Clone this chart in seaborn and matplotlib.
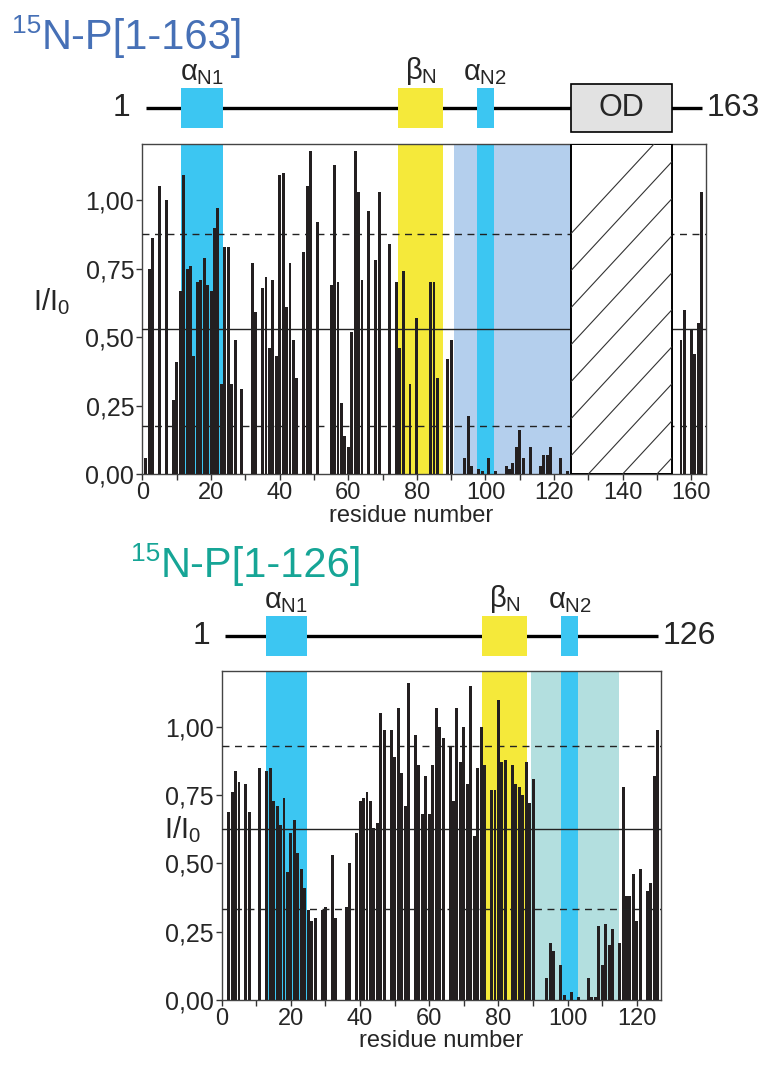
import matplotlib
matplotlib.use("Agg")
import matplotlib.pyplot as plt
import numpy as np
import pandas as pd
import seaborn as sns
from matplotlib.patches import Rectangle

# ---------------- data ----------------
residues_163 = np.arange(1, 164)
intensity_163 = [
    0.06, 0.75, 0.86, 0.00, 1.05, 0.00, 1.00, 0.00, 0.27, 0.41,
    0.67, 1.09, 0.75, 0.76, 0.43, 0.70, 0.71, 0.79, 0.69, 0.67,
    0.90, 0.97, 0.33, 0.83, 0.83, 0.33, 0.49, 0.00, 0.31, 0.00,
    0.00, 0.77, 0.59, 0.00, 0.68, 0.72, 0.46, 0.71, 0.43, 1.09,
    1.10, 0.61, 0.77, 0.49, 0.35, 0.00, 0.81, 1.05, 1.18, 0.00,
    0.92, 0.00, 0.00, 0.00, 0.69, 1.13, 0.70, 0.26, 0.14, 0.10,
    0.52, 1.18, 1.03, 0.71, 0.00, 0.96, 0.00, 0.78, 1.03, 0.00,
    0.00, 0.84, 0.00, 0.70, 0.46, 0.74, 0.00, 0.33, 0.00, 0.57,
    0.00, 0.00, 0.00, 0.70, 0.70, 0.35, 0.00, 0.00, 0.42, 0.49,
    0.00, 0.00, 0.00, 0.06, 0.21, 0.03, 0.00, 0.02, 0.01, 0.00,
    0.06, 0.00, 0.01, 0.00, 0.00, 0.03, 0.02, 0.04, 0.10, 0.16,
    0.06, 0.00, 0.10, 0.00, 0.00, 0.03, 0.07, 0.07, 0.10, 0.00,
    0.00, 0.06, 0.00, 0.01, 0.00, 0.00, 0.00, 0.00, 0.00, 0.00,
    0.00, 0.00, 0.00, 0.00, 0.00, 0.00, 0.00, 0.00, 0.00, 0.00,
    0.00, 0.00, 0.00, 0.00, 0.00, 0.00, 0.00, 0.00, 0.00, 0.00,
    0.00, 0.00, 0.00, 0.00, 0.00, 0.00, 0.49, 0.60, 0.00, 0.53,
    0.44, 0.55, 1.03,
]

residues_126 = np.arange(1, 127)
intensity_126 = [
    0.00, 0.69, 0.76, 0.84, 0.80, 0.00, 0.79, 0.69, 0.00, 0.00,
    0.85, 0.00, 0.84, 0.85, 0.73, 0.71, 0.64, 0.74, 0.47, 0.61,
    0.66, 0.54, 0.48, 0.41, 0.33, 0.29, 0.30, 0.00, 0.33, 0.34,
    0.00, 0.53, 0.30, 0.00, 0.00, 0.34, 0.50, 0.00, 0.61, 0.73,
    0.74, 0.76, 0.73, 0.63, 0.65, 1.05, 0.99, 0.00, 0.99, 0.89,
    1.07, 0.83, 0.71, 1.16, 0.00, 0.97, 0.86, 0.68, 0.82, 0.68,
    0.86, 1.07, 1.00, 0.96, 0.00, 0.93, 0.73, 1.07, 0.87, 1.00,
    0.79, 1.15, 0.60, 0.85, 1.00, 0.86, 0.00, 0.77, 0.77, 1.10,
    0.87, 0.88, 0.00, 0.86, 0.79, 0.78, 0.75, 0.87, 0.72, 0.81,
    0.00, 0.00, 0.00, 0.08, 0.21, 0.18, 0.00, 0.13, 0.02, 0.00,
    0.03, 0.00, 0.01, 0.00, 0.00, 0.08, 0.01, 0.01, 0.27, 0.13,
    0.28, 0.20, 0.26, 0.00, 0.21, 0.78, 0.38, 0.38, 0.46, 0.29,
    0.48, 0.00, 0.40, 0.43, 0.82, 0.99,
]

# mean +/- sd reference lines (upper dashed, solid, lower dashed)
ref_lines_163 = [0.878, 0.530, 0.176]
ref_lines_126 = [0.929, 0.625, 0.333]

# domain boundaries in residue numbers
alpha_n1_163 = (11.3, 23.6)
beta_n_163 = (74.6, 87.5)
alpha_n2_163 = (97.4, 102.5)
disordered_163 = (90.8, 124.8)
od_163 = (124.8, 154.5)

alpha_n1_126 = (12.7, 24.7)
beta_n_126 = (75.3, 88.2)
alpha_n2_126 = (98.0, 103.0)
disordered_126 = (89.5, 114.7)

y_ticks = [0.0, 0.25, 0.5, 0.75, 1.0]
y_tick_labels = ["0,00", "0,25", "0,50", "0,75", "1,00"]
x_ticks_163 = [0, 20, 40, 60, 80, 100, 120, 140, 160]
x_ticks_126 = [0, 20, 40, 60, 80, 100, 120]

# ---------------- style ----------------
sns.set_theme(style="white")
plt.rcParams["font.family"] = ["Liberation Sans", "DejaVu Sans"]
plt.rcParams["mathtext.fontset"] = "custom"
plt.rcParams["mathtext.rm"] = "Liberation Sans"
plt.rcParams["mathtext.it"] = "Liberation Sans"

BAR = "#231f20"
CYAN = "#3cc6f2"
YELLOW = "#f5e93a"
LIGHT_BLUE = "#b4cfed"
LIGHT_TEAL = "#b3dfdf"
OD_GREY = "#e2e2e2"

W, H = 768, 1066
fig = plt.figure(figsize=(W / 100, H / 100), dpi=100)


def px_axes(left, top, right, bottom):
    return fig.add_axes([left / W, 1 - bottom / H, (right - left) / W, (bottom - top) / H])


def intensity_panel(ax, residues, values, xlim, xticks, ref_lines, spans):
    for (lo, hi), col in spans:
        ax.axvspan(lo, hi, color=col, lw=0, zorder=0)
    df = pd.DataFrame({"residue": residues, "intensity": values})
    df = df[df["intensity"] > 0]
    sns.barplot(data=df, x="residue", y="intensity", native_scale=True, width=0.85,
                color=BAR, saturation=1, errorbar=None, ax=ax, zorder=3,
                edgecolor="none", linewidth=0)
    for y, ls in zip(ref_lines, ["--", "-", "--"]):
        if ls == "--":
            ax.axhline(y, color="#222222", lw=1.0, ls=ls, dashes=(5, 4), zorder=4)
        else:
            ax.axhline(y, color="#222222", lw=1.0, ls=ls, zorder=4)
    ax.set_xlim(*xlim)
    ax.set_ylim(0, 1.205)
    ax.set_xticks(xticks)
    minor = [t + 10 for t in xticks if t + 10 < xlim[1]]
    ax.set_xticks(minor, minor=True)
    ax.set_xticklabels([str(t) for t in xticks])
    ax.set_yticks(y_ticks)
    ax.set_yticklabels(y_tick_labels)
    ax.tick_params(axis="both", which="both", direction="out", length=4, width=1,
                   color="#333333", pad=1.5, bottom=True, left=True)
    ax.tick_params(axis="x", labelsize=17)
    ax.tick_params(axis="y", labelsize=18)
    ax.set_xlabel("residue number", fontsize=17, labelpad=0)
    ax.set_ylabel("")
    for s in ax.spines.values():
        s.set_color("#444444")
        s.set_linewidth(1.0)


def domain_map(ax, xlim, n_res, boxes, od=None):
    ax.set_xlim(*xlim)
    ax.set_ylim(-1, 1)
    ax.axis("off")
    ax.plot([1, n_res], [0, 0], color="black", lw=2.4, zorder=1, solid_capstyle="butt")
    for (lo, hi), col, label in boxes:
        ax.add_patch(Rectangle((lo, -0.78), hi - lo, 1.56, facecolor=col, edgecolor="none", zorder=2))
        ax.text((lo + hi) / 2, 0.8, label, ha="center", va="bottom", fontsize=21)
    if od is not None:
        lo, hi = od
        ax.add_patch(Rectangle((lo, -0.92), hi - lo, 1.84, facecolor=OD_GREY,
                               edgecolor="black", lw=1.2, zorder=2))
        ax.text((lo + hi) / 2, 0, "OD", ha="center", va="center", fontsize=22, zorder=3)
    ax.annotate("1", (1, 0), xytext=(-11, 0), textcoords="offset points",
                ha="right", va="center", fontsize=23, annotation_clip=False)
    ax.text(n_res + 1.5, 0, str(n_res), ha="left", va="center", fontsize=23, clip_on=False)


a_n1 = r"$\alpha_{\mathrm{N1}}$"
a_n2 = r"$\alpha_{\mathrm{N2}}$"
b_n = r"$\beta_{\mathrm{N}}$"

# ---------------- top: P[1-163] ----------------
xlim_163 = (-0.2, 164.2)
ax1 = px_axes(141.8, 144, 705.7, 474)
intensity_panel(ax1, residues_163, intensity_163, xlim_163, x_ticks_163, ref_lines_163,
                [(alpha_n1_163, CYAN), (beta_n_163, YELLOW), (disordered_163, LIGHT_BLUE),
                 (alpha_n2_163, CYAN)])
ax1.xaxis.set_label_coords(0.477, -0.093)

# hatched oligomerisation-domain box
od_box = Rectangle((od_163[0], 0), od_163[1] - od_163[0], 1.205, facecolor="white",
                   edgecolor="black", lw=1.4, zorder=5)
ax1.add_patch(od_box)
slope = 1.08 * 3.43 / 274.0
for x0 in np.arange(60, 160, 10):
    ln, = ax1.plot([x0, x0 + 1.3 / slope], [0, 1.3], color="#333333", lw=0.8, zorder=6)
    ln.set_clip_path(od_box)

d1 = px_axes(141.8, 82, 705.7, 134)
domain_map(d1, xlim_163, 163,
           [(alpha_n1_163, CYAN, a_n1), (beta_n_163, YELLOW, b_n), (alpha_n2_163, CYAN, a_n2)],
           od=od_163)

fig.text(12 / W, 1 - 26 / H, "15", fontsize=19, color="#4670b6", va="center")
fig.text(42 / W, 1 - 38 / H, "N-P[1-163]", fontsize=30, color="#4670b6", va="center")
fig.text(52 / W, 1 - 302 / H, r"I/I$_0$", fontsize=21, ha="center", va="center")

# ---------------- bottom: P[1-126] ----------------
xlim_126 = (0.0, 127.0)
ax2 = px_axes(221.7, 671, 661.1, 1000)
intensity_panel(ax2, residues_126, intensity_126, xlim_126, x_ticks_126, ref_lines_126,
                [(alpha_n1_126, CYAN), (beta_n_126, YELLOW), (disordered_126, LIGHT_TEAL),
                 (alpha_n2_126, CYAN)])
ax2.xaxis.set_label_coords(0.5, -0.092)

d2 = px_axes(221.7, 610, 661.1, 662)
domain_map(d2, xlim_126, 126,
           [(alpha_n1_126, CYAN, a_n1), (beta_n_126, YELLOW, b_n), (alpha_n2_126, CYAN, a_n2)])

fig.text(131 / W, 1 - 554 / H, "15", fontsize=19, color="#16a596", va="center")
fig.text(161 / W, 1 - 566 / H, "N-P[1-126]", fontsize=30, color="#16a596", va="center")
fig.text(183 / W, 1 - 830 / H, r"I/I$_0$", fontsize=21, ha="center", va="center")

fig.savefig("out.png", dpi=100)
plt.close(fig)
